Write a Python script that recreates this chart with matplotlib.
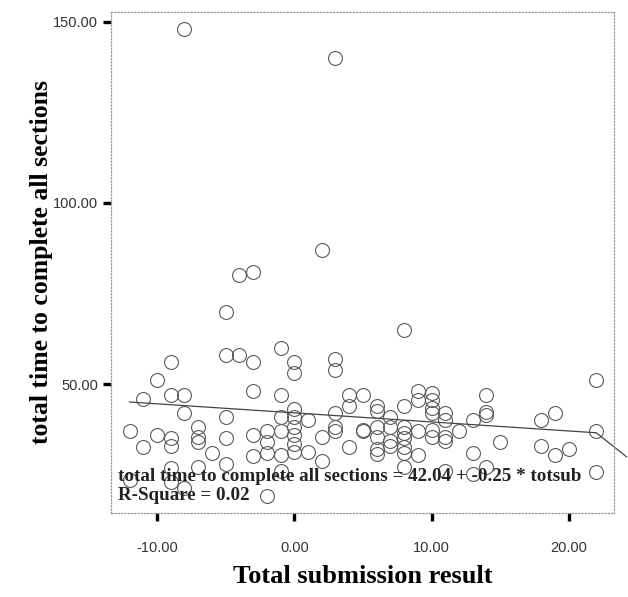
import matplotlib
matplotlib.use("Agg")
import matplotlib.pyplot as plt
from matplotlib.ticker import FormatStrFormatter

# Data
totsub = [
    -8, 3, 2, -4, -3, -5,
    -5, -4, -3, -1, 0, 0, 3, 3, -9, -10, -11, -9, -8, -3, -1,
    -8, -5, -1, 0, 0, 1, 3, 4, 4, 5,
    -12, -11, -10, -9, -9, -7, -7, -7, -6, -5, -5, -3, -3,
    -2, -2, -2, -1, -1, -1, 0, 0, 0, 0, 1, 2, 2, 3, 3, 4, 5,
    -9, -9, -8, -7, -12, -2,
    8, 6, 6, 7, 8, 9, 9, 10, 10, 10, 10, 11, 11, 12, 13, 14, 14, 14,
    15, 18, 19, 22, 22, 22, 18, 19, 20, 13, 14, 13, 11, 8, 9,
    8, 8, 8, 8, 8, 7, 7, 7, 6, 6, 6, 6, 5, 9, 10, 10, 11, 11,
]
tottime = [
    148, 140, 87, 80, 81, 70,
    58, 58, 56, 60, 56, 53, 57, 54, 56, 51, 46, 47, 47, 48, 47,
    42, 41, 41, 43, 41, 40, 42, 44, 47, 47,
    37, 32.5, 36, 35, 33, 38, 35.3, 34, 31, 35, 28, 36, 30,
    37, 34, 31, 37, 30.4, 26, 38.2, 36, 33.4, 31.3, 31.3, 35.4, 28.8, 38.2, 37, 32.5, 37,
    26.7, 23, 21.2, 27.2, 23.5, 19,
    65, 44, 42.5, 41, 44, 48, 45.6, 47.4, 45.6, 43.3, 42, 42, 40.2, 37, 40, 47, 42.4, 41.5,
    34, 40, 42, 51, 37, 25.8, 33, 30.4, 32.2, 31, 27, 25.3, 26, 27.2, 30.4,
    38, 36.5, 35, 32.5, 31, 38.2, 34.3, 32.9, 38.2, 35.4, 32.2, 30.8, 37.3, 37, 37.3, 35.5, 35.5, 34.3,
]
fit_x = [-12, 22, 24.2]
fit_y = [45.04, 36.54, 29.9]
x_ticks = [-10, 0, 10, 20]
y_ticks = [50, 100, 150]
equation = "total time to complete all sections = 42.04 + -0.25 * totsub"
rsq = "R-Square = 0.02"

fig = plt.figure(figsize=(6.28, 5.97), dpi=100)
ax = fig.add_axes([0.1763, 0.1407, 0.8017, 0.8393])

ax.plot(totsub, tottime, linestyle="none", marker="o", markersize=10,
        markerfacecolor="none", markeredgecolor="#5a5a5a", markeredgewidth=0.8)
ax.plot(fit_x, fit_y, color="#444444", linewidth=0.9, clip_on=False)

ax.set_xlim(-13.37, 23.3)
ax.set_ylim(14.4, 152.7)
ax.set_xticks(x_ticks)
ax.set_yticks(y_ticks)
ax.xaxis.set_major_formatter(FormatStrFormatter("%.2f"))
ax.yaxis.set_major_formatter(FormatStrFormatter("%.2f"))
ax.tick_params(axis="both", length=6, width=2.4, color="black",
               labelsize=10.5, labelcolor="#333333")
ax.tick_params(axis="x", pad=14)
ax.tick_params(axis="y", pad=3)
for lab in ax.get_xticklabels() + ax.get_yticklabels():
    lab.set_family(["Liberation Sans", "DejaVu Sans"])

for s in ax.spines.values():
    s.set_linestyle(":")
    s.set_color("#999999")
    s.set_linewidth(0.9)

serif = ["Liberation Serif", "DejaVu Serif"]
ax.set_xlabel("Total submission result", family=serif, fontweight="bold",
              fontsize=19, labelpad=7.5)
ax.set_ylabel("total time to complete all sections", family=serif,
              fontweight="bold", fontsize=18.5, labelpad=0)

ax.text(0.014, 0.072, equation, transform=ax.transAxes, family=serif,
        fontweight="bold", fontsize=13.7, va="center", ha="left", color="#222222")
ax.text(0.014, 0.034, rsq, transform=ax.transAxes, family=serif,
        fontweight="bold", fontsize=13.7, va="center", ha="left", color="#222222")

fig.savefig("out.png", dpi=100)
